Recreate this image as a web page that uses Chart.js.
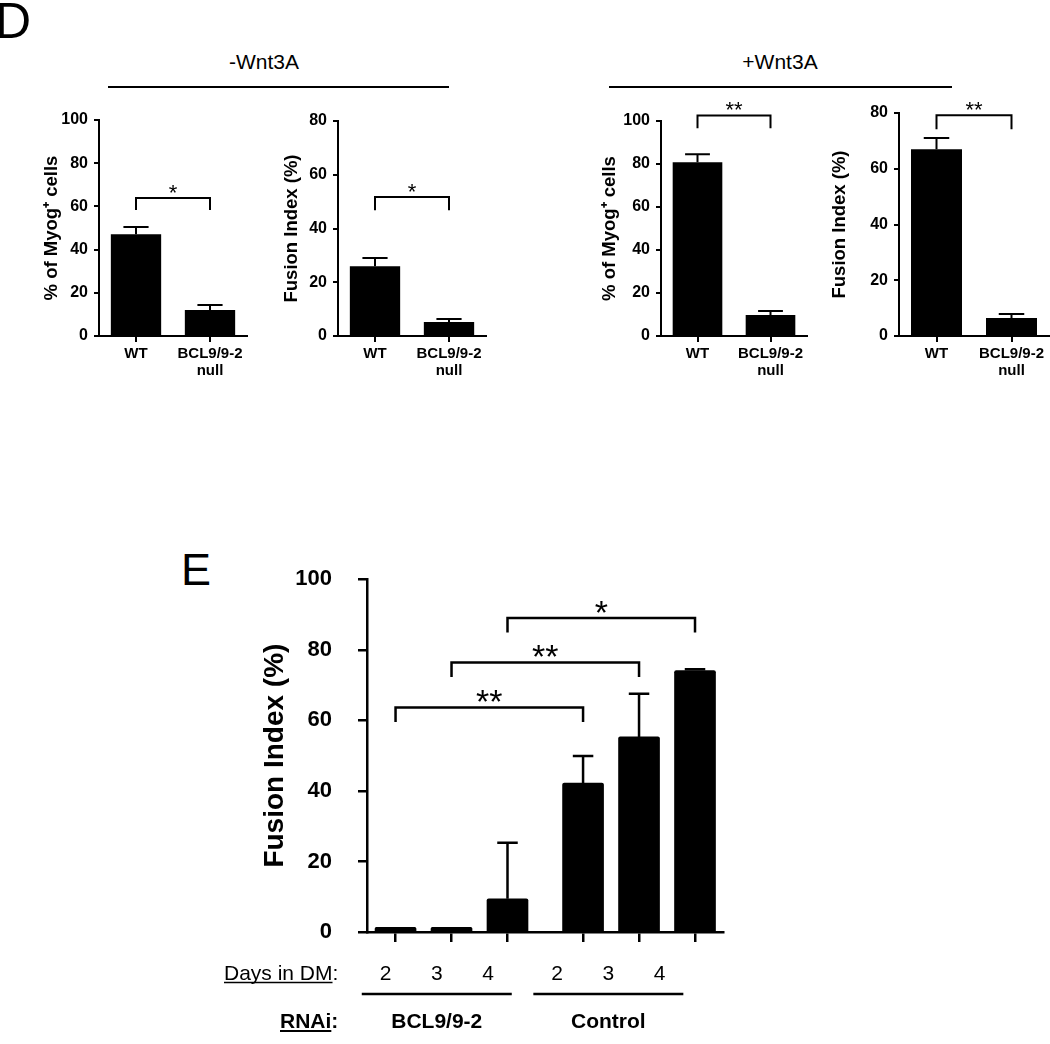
<!DOCTYPE html>
<html>
<head>
    <meta charset="utf-8">
    <title>BCL9/9-2 myogenic differentiation</title>
    <script src="https://cdn.jsdelivr.net/npm/chart.js"></script>
    <style>
        body {
            margin: 0;
            background: #ffffff;
            font-family: 'Liberation Sans', Arial, sans-serif;
            color: #000;
        }
        #page {
            position: relative;
            width: 1050px;
            height: 1044px;
            overflow: hidden;
        }
        canvas { position: absolute; }
        .letter {
            position: absolute;
            line-height: 1;
        }
        .head {
            position: absolute;
            font-size: 21px;
            line-height: 1;
            transform: translateX(-50%);
            white-space: nowrap;
        }
        .rule {
            position: absolute;
            height: 2px;
            background: #000;
        }
    </style>
</head>
<body>
<div id="page">
    <div class="letter" style="left:-5px; top:-4px; font-size:50px;">D</div>
    <div class="head" style="left:264px; top:51px;">-Wnt3A</div>
    <div class="rule" style="left:108px; top:86px; width:341px;"></div>
    <div class="head" style="left:780px; top:51px;">+Wnt3A</div>
    <div class="rule" style="left:609px; top:86px; width:343px;"></div>

    <canvas id="p1" width="260" height="400" style="left:0px; top:0px;"></canvas>
    <canvas id="p2" width="240" height="400" style="left:250px; top:0px;"></canvas>
    <canvas id="p3" width="260" height="400" style="left:560px; top:0px;"></canvas>
    <canvas id="p4" width="250" height="400" style="left:800px; top:0px;"></canvas>

    <div class="letter" style="left:181px; top:547px; font-size:45px;">E</div>
    <canvas id="pE" width="570" height="504" style="left:180px; top:540px;"></canvas>
</div>

<script>
    const FONT = "'Liberation Sans', Arial, sans-serif";

    // ---- panel D data ----
    const topCategories = ['WT', ['BCL9/9-2', 'null']];

    const myogMinus = [47.1, 12.0];
    const myogMinusErr = [3.4, 2.4];
    const fusionMinus = [26.0, 5.2];
    const fusionMinusErr = [3.0, 1.1];

    const myogPlus = [80.8, 9.8];
    const myogPlusErr = [3.7, 1.8];
    const fusionPlus = [67.0, 6.5];
    const fusionPlusErr = [4.0, 1.4];

    // ---- panel E data ----
    const dayLabels = ['2', '3', '4', '2', '3', '4'];
    const rnaiGroups = ['BCL9/9-2', 'Control'];
    const groupOf = [0, 0, 0, 1, 1, 1];
    const fusionE = [1.3, 1.3, 9.4, 42.2, 55.3, 74.1];
    const fusionEErr = [0, 0, 15.9, 7.7, 12.2, 0.4];
    const eBrackets = [
        { from: 0, to: 3, y: 63.6, drop: 4.1, label: '**' },
        { from: 1, to: 4, y: 76.4, drop: 4.1, label: '**' },
        { from: 2, to: 5, y: 89.0, drop: 4.1, label: '*' }
    ];
    const groupGap = 0.35;

    // error bars (upper only) + significance brackets
    const annotate = {
        id: 'annotate',
        afterDatasetsDraw(chart, args, opts) {
            const ctx = chart.ctx;
            const y = chart.scales.y;
            const meta = chart.getDatasetMeta(0);
            ctx.save();
            ctx.strokeStyle = '#000';
            ctx.fillStyle = '#000';
            ctx.lineWidth = opts.lineWidth;
            ctx.lineCap = 'butt';
            opts.err.forEach((e, i) => {
                if (!e) return;
                const bar = meta.data[i];
                const top = y.getPixelForValue(opts.values[i] + e);
                const half = bar.width / 4;
                ctx.beginPath();
                ctx.moveTo(bar.x, bar.y);
                ctx.lineTo(bar.x, top);
                ctx.moveTo(bar.x - half, top);
                ctx.lineTo(bar.x + half, top);
                ctx.stroke();
            });
            opts.brackets.forEach(b => {
                const x1 = meta.data[b.from].x;
                const x2 = meta.data[b.to].x;
                const yb = y.getPixelForValue(b.y);
                const yl = y.getPixelForValue(b.y - b.drop);
                ctx.beginPath();
                ctx.moveTo(x1, yl);
                ctx.lineTo(x1, yb);
                ctx.lineTo(x2, yb);
                ctx.lineTo(x2, yl);
                ctx.stroke();
                ctx.font = opts.starSize + 'px ' + FONT;
                ctx.textAlign = 'center';
                ctx.textBaseline = 'alphabetic';
                // asterisk glyph sits ~0.575em above the baseline
                ctx.fillText(b.label, (x1 + x2) / 2, yb - opts.starGap + 0.575 * opts.starSize);
            });
            ctx.restore();
        }
    };

    function topPanel(id, o) {
        new Chart(document.getElementById(id), {
            type: 'bar',
            data: {
                labels: topCategories,
                datasets: [{
                    data: o.values,
                    backgroundColor: '#000',
                    borderWidth: 0,
                    barPercentage: 0.68,
                    categoryPercentage: 1
                }]
            },
            options: {
                responsive: false,
                animation: false,
                layout: { padding: { top: o.top, right: o.right, left: 0, bottom: 0 } },
                plugins: {
                    legend: { display: false },
                    tooltip: { enabled: false },
                    annotate: {
                        values: o.values, err: o.err, brackets: [o.bracket],
                        lineWidth: 2, starSize: 22, starGap: 11
                    }
                },
                scales: {
                    x: {
                        grid: { drawOnChartArea: false, offset: false, color: '#000', lineWidth: 2, tickLength: 6 },
                        border: { color: '#000', width: 2 },
                        ticks: {
                            color: '#000', padding: 3, maxRotation: 0, autoSkip: false,
                            font: { family: FONT, size: 15, weight: 'bold', lineHeight: 1.15 }
                        },
                        afterFit: s => { s.height = 64; }
                    },
                    y: {
                        min: 0,
                        max: o.max,
                        grid: { drawOnChartArea: false, color: '#000', lineWidth: 2, tickLength: 5 },
                        border: { color: '#000', width: 2 },
                        ticks: {
                            stepSize: 20, color: '#000', padding: 6,
                            font: { family: FONT, size: 16, weight: 'bold' }
                        },
                        title: {
                            display: true, text: o.title, color: '#000',
                            font: { family: FONT, size: 18.5, weight: 'bold', lineHeight: 1.2 },
                            padding: { top: o.titlePad, bottom: 0 }
                        },
                        afterFit: s => { s.width = o.yw; }
                    }
                }
            },
            plugins: [annotate]
        });
    }

    topPanel('p1', {
        values: myogMinus, err: myogMinusErr, max: 100, title: '% of Myog⁺ cells',
        top: 120, right: 13, yw: 99, titlePad: 41,
        bracket: { from: 0, to: 1, y: 63.9, drop: 5.6, label: '*' }
    });
    topPanel('p2', {
        values: fusionMinus, err: fusionMinusErr, max: 80, title: 'Fusion Index (%)',
        top: 121, right: 4, yw: 88, titlePad: 31,
        bracket: { from: 0, to: 1, y: 51.7, drop: 4.9, label: '*' }
    });
    topPanel('p3', {
        values: myogPlus, err: myogPlusErr, max: 100, title: '% of Myog⁺ cells',
        top: 121, right: 13, yw: 101, titlePad: 39,
        bracket: { from: 0, to: 1, y: 102.6, drop: 6.0, label: '**' }
    });
    topPanel('p4', {
        values: fusionPlus, err: fusionPlusErr, max: 80, title: 'Fusion Index (%)',
        top: 113, right: 1, yw: 99, titlePad: 29,
        bracket: { from: 0, to: 1, y: 79.2, drop: 5.0, label: '**' }
    });

    // ---- panel E ----
    const xPos = fusionE.map((v, i) => i + groupOf[i] * groupGap);

    // "Days in DM" and "RNAi" rows under the axis
    const rows = {
        id: 'rows',
        afterDraw(chart) {
            const ctx = chart.ctx;
            const xs = chart.getDatasetMeta(0).data.map(b => b.x);
            const lx = xs.map(x => xs[0] - 10 + (x - xs[0]) * 0.915);
            ctx.save();
            ctx.fillStyle = '#000';
            ctx.strokeStyle = '#000';
            ctx.textBaseline = 'alphabetic';

            ctx.font = '21px ' + FONT;
            ctx.textAlign = 'left';
            const d = 'Days in DM';
            const dw = ctx.measureText(d).width;
            ctx.fillText(d, 44, 440);
            ctx.fillText(':', 44 + dw, 440);
            ctx.lineWidth = 1.5;
            ctx.beginPath();
            ctx.moveTo(44, 442.5);
            ctx.lineTo(44 + dw, 442.5);
            ctx.stroke();

            ctx.textAlign = 'center';
            dayLabels.forEach((t, i) => ctx.fillText(t, lx[i], 440));

            ctx.lineWidth = 2.5;
            ctx.font = 'bold 21px ' + FONT;
            rnaiGroups.forEach((g, gi) => {
                const members = lx.filter((x, i) => groupOf[i] === gi);
                const c = members.reduce((a, b) => a + b, 0) / members.length;
                ctx.beginPath();
                ctx.moveTo(c - 75, 454);
                ctx.lineTo(c + 75, 454);
                ctx.stroke();
                ctx.fillText(g, c, 488);
            });

            ctx.textAlign = 'left';
            const r = 'RNAi';
            const rw = ctx.measureText(r).width;
            ctx.fillText(r, 100, 488);
            ctx.fillText(':', 100 + rw, 488);
            ctx.lineWidth = 2;
            ctx.beginPath();
            ctx.moveTo(100, 491);
            ctx.lineTo(100 + rw, 491);
            ctx.stroke();
            ctx.restore();
        }
    };

    new Chart(document.getElementById('pE'), {
        type: 'bar',
        data: {
            datasets: [{
                data: fusionE.map((v, i) => ({ x: xPos[i], y: v })),
                backgroundColor: '#000',
                borderWidth: 0,
                borderRadius: 2,
                barThickness: 41
            }]
        },
        options: {
            responsive: false,
            animation: false,
            layout: { padding: { top: 35, right: 27, left: 0, bottom: 0 } },
            plugins: {
                legend: { display: false },
                tooltip: { enabled: false },
                annotate: {
                    values: fusionE, err: fusionEErr, brackets: eBrackets,
                    lineWidth: 2.5, starSize: 34, starGap: 14
                }
            },
            scales: {
                x: {
                    type: 'linear',
                    offset: false,
                    min: -0.51,
                    max: 5.85,
                    afterBuildTicks: s => { s.ticks = xPos.map(v => ({ value: v })); },
                    grid: { drawOnChartArea: false, offset: false, color: '#000', lineWidth: 2.5, tickLength: 10 },
                    border: { color: '#000', width: 2.5 },
                    ticks: { display: false, autoSkip: false },
                    afterFit: s => { s.height = 112; }
                },
                y: {
                    min: 0,
                    max: 100,
                    grid: { drawOnChartArea: false, color: '#000', lineWidth: 2.5, tickLength: 9 },
                    border: { color: '#000', width: 2.5 },
                    ticks: {
                        stepSize: 20, color: '#000', padding: 26,
                        font: { family: FONT, size: 22, weight: 'bold' }
                    },
                    title: {
                        display: true, text: 'Fusion Index (%)', color: '#000',
                        font: { family: FONT, size: 28, weight: 'bold', lineHeight: 1.2 },
                        padding: { top: 78, bottom: 0 }
                    },
                    afterFit: s => { s.width = 187; }
                }
            }
        },
        plugins: [annotate, rows]
    });
</script>
</body>
</html>
